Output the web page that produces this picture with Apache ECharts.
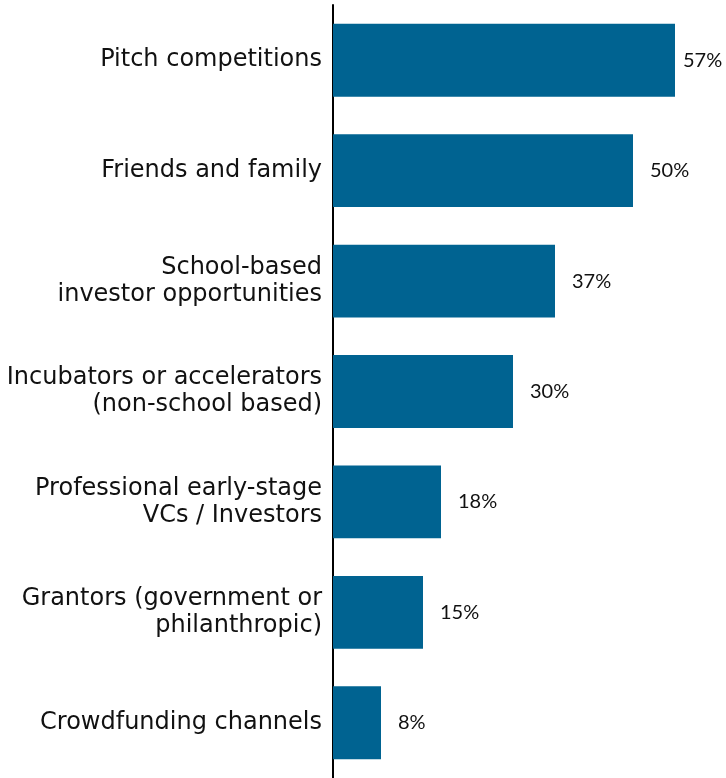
<!DOCTYPE html>
<html>
<head>
<meta charset="utf-8">
<script src="https://cdn.jsdelivr.net/npm/echarts@6/dist/echarts.min.js"></script>
<style>html,body{margin:0;padding:0;background:#fff}#c{width:726px;height:778px}</style>
</head>
<body>
<div id="c"></div>
<script>
const categories = [
  'Pitch competitions',
  'Friends and family',
  'School-based\ninvestor opportunities',
  'Incubators or accelerators\n(non-school based)',
  'Professional early-stage\nVCs / Investors',
  'Grantors (government or\nphilanthropic)',
  'Crowdfunding channels'
];
const values = [57, 50, 37, 30, 18, 15, 8];

const chart = echarts.init(document.getElementById('c'));
chart.setOption({
  animation: false,
  grid: { left: 333, top: 5, width: 360, height: 775, containLabel: false },
  xAxis: {
    type: 'value', min: 0, max: 60,
    show: false
  },
  yAxis: {
    type: 'category', data: categories, inverse: true,
    axisLine: { show: true, lineStyle: { color: '#000', width: 2 } },
    axisTick: { show: false },
    axisLabel: {
      margin: 11, color: '#111', fontFamily: 'DejaVu Sans', fontSize: 24,
      lineHeight: 27, align: 'right'
    }
  },
  series: [{
    type: 'bar',
    data: values.map((v, i) => i === 0 ? { value: v, label: { distance: 8 } } : v),
    barCategoryGap: '34%',
    itemStyle: { color: '#006391' },
    label: {
      show: true, position: 'right', distance: 17,
      formatter: '{c}%', color: '#111', fontFamily: 'Lato', fontSize: 20
    }
  }]
});
</script>
</body>
</html>
